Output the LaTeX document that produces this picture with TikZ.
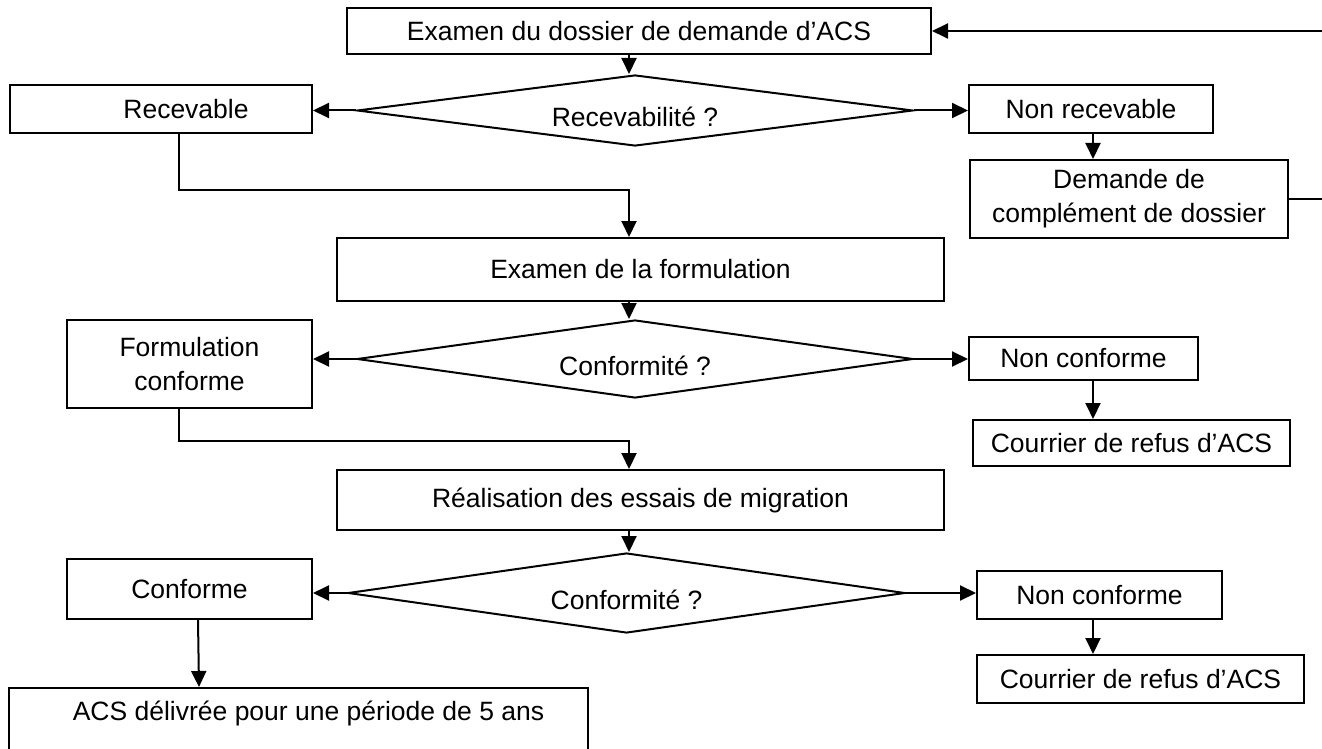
\documentclass[tikz,border=0pt]{standalone}
\usepackage{fontspec}
\setmainfont{Liberation Sans}
\usetikzlibrary{shapes.geometric,arrows.meta}

\begin{document}
\begin{tikzpicture}[x=1pt,y=-1pt,
  every node/.style={font=\fontsize{26.5}{34}\selectfont},
  box/.style={draw,line width=2pt,inner sep=0pt,align=center},
  test/.style={draw,line width=2pt,diamond,aspect=7,inner sep=0pt,text height=33pt,text depth=0pt},
  fl/.style={line width=2pt,-{Triangle[length=16pt,width=15pt]}}]
\useasboundingbox (0,0) rectangle (1322,749);
% colonne centrale
\node[box,minimum width=584pt,minimum height=46pt] (exdos) at (639,31) {Examen du dossier de demande d’ACS};
\node[test,minimum width=556pt,minimum height=71pt] (d1) at (635,110.5) {Recevabilité ?};
\node[box,minimum width=607pt,minimum height=63pt] (exform) at (640.5,269.5) {Examen de la formulation};
\node[test,minimum width=556pt,minimum height=78pt] (d2) at (635,359) {Conformité ?};
\node[box,minimum width=607pt,minimum height=60pt] (essais) at (640.5,500) {Réalisation des essais de migration};
\node[test,minimum width=557pt,minimum height=80pt] (d3) at (626.5,593) {Conformité ?};
% gauche
\node[box,minimum width=302pt,minimum height=48pt] (rec) at (161,109) {\hspace*{50pt}Recevable};
\node[box,minimum width=245pt,minimum height=88pt] (fconf) at (189.5,364) {Formulation\\conforme};
\node[box,minimum width=245pt,minimum height=60pt] (conf) at (189.5,589) {Conforme};
\node[box,anchor=north,minimum width=579pt,minimum height=80pt,text depth=34pt] (acs) at (298.5,687) {\hspace*{20pt}ACS délivrée pour une période de 5 ans};
% droite
\node[box,minimum width=244pt,minimum height=48pt] (nrec) at (1091,109) {Non recevable};
\node[box,minimum width=318pt,minimum height=78pt] (dem) at (1129,199) {Demande de\\complément de dossier};
\node[box,minimum width=229pt,minimum height=43pt] (nconf1) at (1083.5,358.5) {Non conforme};
\node[box,minimum width=317pt,minimum height=46pt] (crf1) at (1131.5,443) {Courrier de refus d’ACS};
\node[box,minimum width=245pt,minimum height=48pt] (nconf2) at (1099.5,595) {Non conforme};
\node[box,minimum width=327pt,minimum height=48pt] (crf2) at (1140.5,679) {Courrier de refus d’ACS};

\coordinate (axe) at (629,0);
\coordinate (colg) at (179,0);
\coordinate (cold) at (1093,0);
\coordinate (retour) at (1330,31);
\coordinate (coude1) at (629,190);
\coordinate (coude2) at (629,441);

\draw[fl] (exdos.south -| axe) -- (d1.north -| axe);
\draw[fl] (d1.west) -- (rec.east |- d1.west);
\draw[fl] (d1.east) -- (nrec.west |- d1.east);
\draw[fl] (nrec.south -| cold) -- (dem.north -| cold);
\draw[fl] (dem.east) -| (retour) -- (exdos.east);
\draw[fl] (rec.south -| colg) |- (coude1) -- (exform.north -| coude1);
\draw[fl] (exform.south -| axe) -- (d2.north -| axe);
\draw[fl] (d2.west) -- (fconf.east |- d2.west);
\draw[fl] (d2.east) -- (nconf1.west |- d2.east);
\draw[fl] (nconf1.south -| cold) -- (crf1.north -| cold);
\draw[fl] (fconf.south -| colg) |- (coude2) -- (essais.north -| coude2);
\draw[fl] (essais.south -| axe) -- (d3.north -| axe);
\draw[fl] (d3.west) -- (conf.east |- d3.west);
\draw[fl] (d3.east) -- (nconf2.west |- d3.east);
\draw[fl] (nconf2.south -| cold) -- (crf2.north -| cold);
\draw[fl] ([xshift=8.5pt]conf.south) -- ([xshift=9.5pt]conf.south |- acs.north);
\end{tikzpicture}
\end{document}
